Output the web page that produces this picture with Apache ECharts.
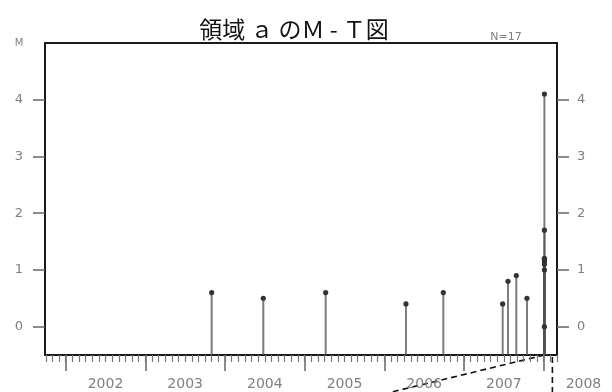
<!DOCTYPE html>
<html><head><meta charset="utf-8">
<script src="https://cdn.jsdelivr.net/npm/echarts@6/dist/echarts.min.js"></script>
<style>html,body{margin:0;padding:0;background:#fff}#c{width:612px;height:392px}</style>
</head><body><div id="c"></div>
<script>
// Data (decimal years, magnitude)
const times = [2003.333, 2003.981, 2004.764, 2005.772, 2006.241, 2006.986, 2007.053, 2007.157, 2007.291,
               2007.51, 2007.51, 2007.51, 2007.51, 2007.51, 2007.51, 2007.51, 2007.51];
const mags  = [0.6, 0.5, 0.6, 0.4, 0.6, 0.4, 0.8, 0.9, 0.5,
               4.1, 1.7, 1.2, 1.2, 1.15, 1.1, 1.0, 0.0];
const yearLabels = [2002, 2003, 2004, 2005, 2006, 2007, 2008];
const magTicks = [0, 1, 2, 3, 4];
const titleText = '領域 ａ のＭ - Ｔ図';
const countText = 'N=17';

const xMin = 2001.2405, xMax = 2007.668;
const pxPerYear = 512 / (xMax - xMin);
const xMax2 = xMin + 567 / pxPerYear;
const yearTicks = [];
for (let y = 2001; y <= 2007; y++) yearTicks.push(y + 0.5);
const monthTicks = [];
for (let i = 0; i < 12 * 8; i++) { const v = 2001 + i / 12; if (v >= xMin && v <= xMax) monthTicks.push(v); }

const data = times.map((t, i) => [t, mags[i]]);
const gray = '#808080';
const chart = echarts.init(document.getElementById('c'), null, {renderer: 'canvas'});
const option = {
  animation: false,
  grid: [
    {left: 45, right: 55, top: 43, height: 312, show: true, borderColor: '#1a1a1a', borderWidth: 2, backgroundColor: 'transparent'},
    {left: 45, right: 0, top: 43, height: 312, show: false}
  ],
  xAxis: [
    {type: 'value', gridIndex: 0, min: xMin, max: xMax, position: 'bottom',
     axisLine: {show: false, onZero: false}, splitLine: {show: false}, axisLabel: {show: false},
     axisTick: {show: true, customValues: yearTicks, length: 16, lineStyle: {color: '#666', width: 1.5}}},
    {type: 'value', gridIndex: 0, min: xMin, max: xMax, position: 'bottom',
     axisLine: {show: false, onZero: false}, splitLine: {show: false}, axisLabel: {show: false},
     axisTick: {show: true, customValues: monthTicks, length: 7, lineStyle: {color: '#777', width: 1.2}}},
    {type: 'value', gridIndex: 1, min: xMin, max: xMax2, position: 'bottom',
     axisLine: {show: false, onZero: false}, splitLine: {show: false}, axisTick: {show: false},
     axisLabel: {show: true, customValues: yearLabels, margin: 22, color: gray, fontSize: 14, fontFamily: 'DejaVu Sans',
       formatter: v => String(Math.round(v))}}
  ],
  yAxis: [
    {type: 'value', gridIndex: 0, min: -0.5, max: 5, position: 'left',
     axisLine: {show: false, onZero: false}, splitLine: {show: false},
     axisTick: {show: true, customValues: magTicks, length: 12, lineStyle: {color: '#666', width: 1.5}},
     axisLabel: {show: true, customValues: magTicks, margin: 22, color: gray, fontSize: 13, fontFamily: 'DejaVu Sans'}},
    {type: 'value', gridIndex: 0, min: -0.5, max: 5, position: 'right',
     axisLine: {show: false, onZero: false}, splitLine: {show: false},
     axisTick: {show: true, customValues: magTicks, length: 12, lineStyle: {color: '#666', width: 1.5}},
     axisLabel: {show: true, customValues: magTicks, margin: 20, color: gray, fontSize: 13, fontFamily: 'DejaVu Sans'}},
    {type: 'value', gridIndex: 1, min: -0.5, max: 5, show: false}
  ],
  series: [{
    type: 'custom', xAxisIndex: 0, yAxisIndex: 0, data: data,
    renderItem: function (params, api) {
      const t = api.value(0), m = api.value(1);
      const top = api.coord([t, m]);
      const bot = api.coord([t, -0.5]);
      return {type: 'group', children: [
        {type: 'line', shape: {x1: top[0], y1: top[1], x2: bot[0], y2: bot[1]}, style: {stroke: 'rgba(80,80,80,0.75)', lineWidth: 2}},
        {type: 'circle', shape: {cx: top[0], cy: top[1], r: 2.6}, style: {fill: '#333'}}
      ]};
    }
  }]
};
chart.setOption(option);
const base = chart.convertToPixel({xAxisIndex: 0, yAxisIndex: 0}, [2007.51, -0.5]);
const vx = chart.convertToPixel({xAxisIndex: 0, yAxisIndex: 0}, [2007.61, -0.5]);
chart.setOption({
  graphic: [
    {type: 'text', style: {x: 294, y: 29, text: titleText, textAlign: 'center', textVerticalAlign: 'middle', font: '23px "Noto Sans CJK JP"', fill: '#111'}},
    {type: 'text', style: {x: 506, y: 37, text: countText, textAlign: 'center', textVerticalAlign: 'middle', font: '11px "DejaVu Sans"', fill: gray}},
    {type: 'text', style: {x: 19, y: 43, text: 'M', textAlign: 'center', textVerticalAlign: 'middle', font: '10px "DejaVu Sans"', fill: gray}},
    {type: 'line', shape: {x1: base[0], y1: base[1], x2: base[0] - 165, y2: base[1] + 40}, style: {stroke: '#111', lineWidth: 1.6, lineDash: [6, 4]}},
    {type: 'line', shape: {x1: vx[0], y1: base[1] + 2, x2: vx[0], y2: 392}, style: {stroke: '#111', lineWidth: 1.6, lineDash: [6, 4]}}
  ]
});
</script></body></html>
